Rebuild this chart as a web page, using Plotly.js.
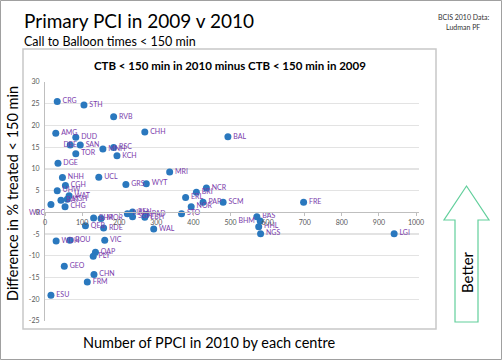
<!DOCTYPE html>
<html>
<head>
<meta charset="utf-8">
<script src="https://cdn.plot.ly/plotly-3.0.1.min.js"></script>
<style>html,body{margin:0;padding:0;background:#fff;}#chart{width:502px;height:360px;}</style>
</head>
<body>
<div id="chart"></div>
<script>
// ---- data ----
const centres = ["CRG","STH","RVB","AMG","DUD","CHH","BAL","DEE","SAN","MNH","RSC","TOR","KCH","DGE","NHH","UCL","MRI","CGH","GRS","WYT","NCR","BRI","UHW","WAT","KGH","BAT","ERL","PAP","SCM","FRE","WRG","CHG","NOR","STO","REH","HAM","PAD","SGH","EBH","BHR","MOR","QEB","RDE","WAL","BAS","BHM","HHL","NGS","LGI","WDH","BOU","VIC","QAP","PLY","GEO","CHN","FRM","ESU"];
const ppci2010 = [33,105,185,29,83,269,493,68,95,156,185,83,194,35,47,145,336,55,218,273,435,408,33,65,60,43,379,426,480,697,16,54,394,368,236,222,273,236,269,131,151,109,158,293,571,580,576,581,941,30,67,161,136,130,52,132,114,16];
const diffPct = [25.5,24.7,22.0,18.2,17.3,18.5,17.4,15.5,15.5,14.6,14.9,13.5,13.0,11.3,8.0,8.1,9.3,6.2,6.4,6.6,5.6,4.6,5.0,3.8,3.0,2.8,3.4,2.3,2.3,2.3,1.8,1.3,1.3,-0.3,0.1,-0.3,-0.5,-1.0,-1.1,-1.3,-1.4,-3.1,-3.6,-3.8,-1.0,-2.0,-3.3,-4.9,-4.9,-6.6,-6.4,-6.4,-9.2,-10.1,-12.4,-14.3,-16.0,-19.1];
const yTickVals = [-25,-20,-15,-10,-5,0,5,10,15,20,25,30];
const yTickText = ["-25","-20","-15","-10","-5","0","5","10","15","20","25","30"];
const xTickVals = [0,100,200,300,400,500,600,700,800,900,1000];
const xTickText = ["0","100","200","300","400","500","600","700","800","900","1000"];

// ---- label placement exceptions (style) ----
const labelSide = {DEE:"middle center", WRG:"bottom left", BHM:"middle left"};
const textpos = centres.map(c => labelSide[c] || "middle right");

// ---- layout geometry ----
const W = 502, H = 360;
const M = {l:45, r:83, t:82, b:39};
const PW = W - M.l - M.r, PH = H - M.t - M.b;
const px = x => (x - M.l) / PW;
const py = y => (H - M.b - y) / PH;

const FONT = "Lato, 'Open Sans', sans-serif";

const trace = {
  type: "scatter", mode: "markers+text",
  x: ppci2010, y: diffPct, text: centres,
  textposition: textpos,
  textfont: {family: FONT, size: 7, color: "#7a3cab"},
  marker: {size: 7, color: "#2a78be"},
  cliponaxis: false, hoverinfo: "skip"
};

function ann(text, x, y, opts) {
  return Object.assign({text: text, x: px(x), y: py(y), xref: "paper", yref: "paper",
    showarrow: false, xanchor: "center", yanchor: "middle"}, opts || {});
}

function pathFrom(points) {
  return "M " + points.map(p => px(p[0]) + "," + py(p[1])).join(" L ") + " Z";
}

const arrowPts = [[466.5,186],[489,220],[478,220],[478,322],[455,322],[455,220],[444,220]];

const layout = {
  width: W, height: H,
  margin: M,
  paper_bgcolor: "#fff", plot_bgcolor: "rgba(0,0,0,0)",
  showlegend: false,
  font: {family: FONT},
  xaxis: {
    range: [0, 1008], anchor: "free", position: 25/55,
    tickvals: xTickVals, ticktext: xTickText,
    tickfont: {family: FONT, size: 7, color: "#595959"},
    showgrid: false, zeroline: false,
    showline: true, linecolor: "#bfbfbf", linewidth: 1,
    ticks: "outside", ticklen: 3, tickcolor: "#bfbfbf"
  },
  yaxis: {
    range: [-25, 30],
    tickvals: yTickVals, ticktext: yTickText,
    tickfont: {family: FONT, size: 7, color: "#595959"},
    showgrid: true, gridcolor: "#e3e3e3", gridwidth: 1.3,
    zeroline: false, showline: true, linecolor: "#bfbfbf", linewidth: 1,
    ticks: "", ticklabelstandoff: 3
  },
  shapes: [
    {type: "rect", xref: "paper", yref: "paper", x0: px(0.5), y0: py(0.5), x1: px(501.5), y1: py(359.5),
     line: {color: "#a0a0a0", width: 1}, layer: "below"},
    {type: "rect", xref: "paper", yref: "paper", x0: px(23), y0: py(49), x1: px(436), y1: py(329),
     line: {color: "#c8c8c8", width: 1.5}, layer: "below"},
    {type: "path", xref: "paper", yref: "paper", path: pathFrom(arrowPts),
     line: {color: "#62cf9c", width: 1.2}, fillcolor: "rgba(0,0,0,0)", layer: "above"}
  ],
  annotations: [
    ann("Primary PCI in 2009 v 2010", 22, 20, {xanchor: "left", font: {family: FONT, size: 19, color: "#000"}}),
    ann("Call to Balloon times &lt; 150 min", 22, 41, {xanchor: "left", font: {family: FONT, size: 12.5, color: "#000"}}),
    ann("BCIS 2010 Data:", 463, 17, {font: {family: FONT, size: 7, color: "#333"}}),
    ann("Ludman PF", 463, 27, {font: {family: FONT, size: 7, color: "#333"}}),
    ann("<b>CTB &lt; 150 min in 2010 minus CTB &lt; 150 min in 2009</b>", 230, 65, {font: {family: FONT, size: 11.5, color: "#000"}}),
    ann("Difference in % treated &lt; 150 min", 12, 194, {textangle: -90, font: {family: FONT, size: 14.5, color: "#000"}}),
    ann("Number of PPCI in 2010 by each centre", 209, 342, {font: {family: FONT, size: 14.5, color: "#000"}}),
    ann("Better", 467, 272, {textangle: -90, font: {family: FONT, size: 15, color: "#000"}})
  ]
};

Plotly.newPlot("chart", [trace], layout, {staticPlot: true, displayModeBar: false});
</script>
</body>
</html>
